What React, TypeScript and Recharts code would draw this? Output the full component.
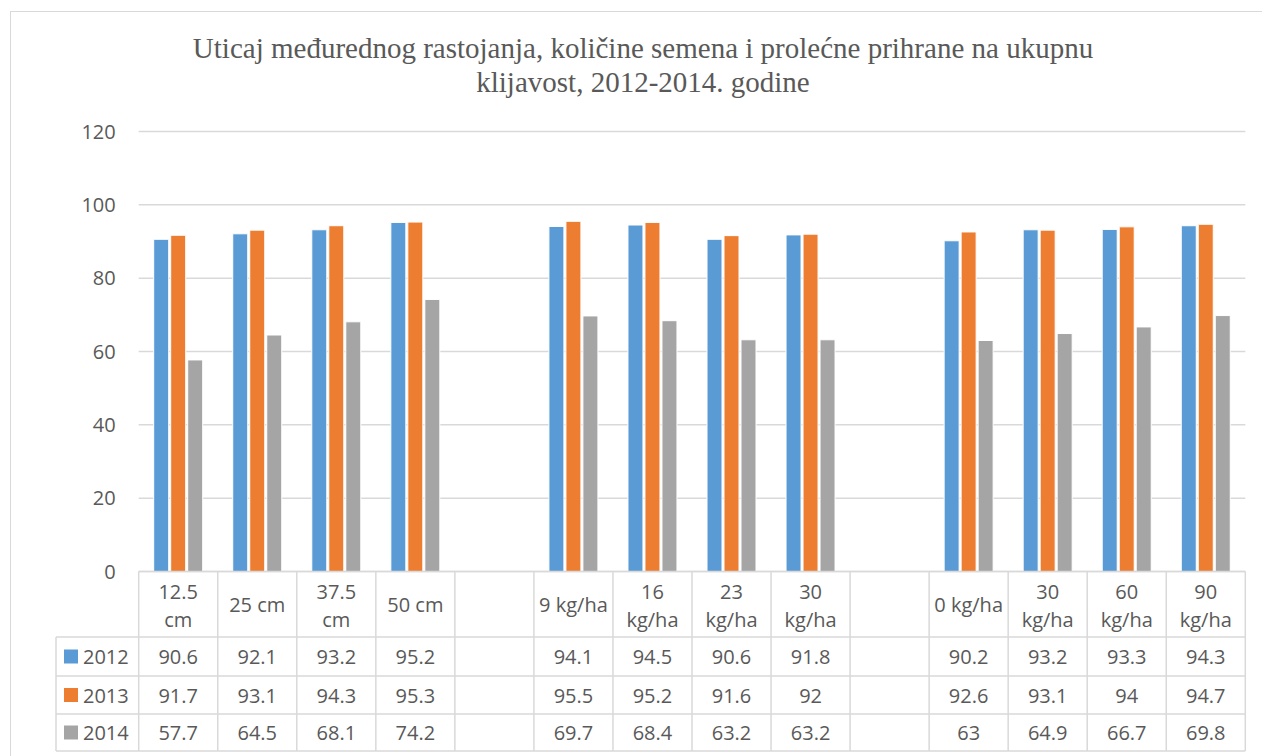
import React from 'react';
import { BarChart, Bar, XAxis, YAxis, CartesianGrid } from 'recharts';

const categories = ['12.5 cm', '25 cm', '37.5 cm', '50 cm', '', '9 kg/ha', '16 kg/ha', '23 kg/ha', '30 kg/ha', '', '0 kg/ha', '30 kg/ha', '60 kg/ha', '90 kg/ha'];
// header labels as they wrap in the table
const headerLabels = [['12.5', 'cm'], ['25 cm'], ['37.5', 'cm'], ['50 cm'], [], ['9 kg/ha'], ['16', 'kg/ha'], ['23', 'kg/ha'], ['30', 'kg/ha'], [], ['0 kg/ha'], ['30', 'kg/ha'], ['60', 'kg/ha'], ['90', 'kg/ha']];
const y2012 = [90.6, 92.1, 93.2, 95.2, null, 94.1, 94.5, 90.6, 91.8, null, 90.2, 93.2, 93.3, 94.3];
const y2013 = [91.7, 93.1, 94.3, 95.3, null, 95.5, 95.2, 91.6, 92, null, 92.6, 93.1, 94, 94.7];
const y2014 = [57.7, 64.5, 68.1, 74.2, null, 69.7, 68.4, 63.2, 63.2, null, 63, 64.9, 66.7, 69.8];
const yTicks = [0, 20, 40, 60, 80, 100, 120];

const series = [
  { key: '2012', values: y2012, color: '#5B9BD5' },
  { key: '2013', values: y2013, color: '#ED7D31' },
  { key: '2014', values: y2014, color: '#A5A5A5' },
];

const data = categories.map((name, i) => ({
  name,
  '2012': y2012[i],
  '2013': y2013[i],
  '2014': y2014[i],
}));

const W = 1262;
const H = 756;
const plotLeft = 138.7;
const plotRight = 1245.3;
const plotTop = 131.5;
const plotBottom = 571.5;
const colW = (plotRight - plotLeft) / categories.length;
const font = '"Open Sans", Lato, sans-serif';
const textColor = '#595959';
const lineColor = '#D9D9D9';

const headerBottom = 637;
const rowLines = [637, 676, 714, 751];
const tableLeft = 56;

function DataTable() {
  return (
    <svg width={W} height={H} style={{ position: 'absolute', left: 0, top: 0, pointerEvents: 'none' }}>
      <g stroke={lineColor} strokeWidth={1.5}>
        <line x1={plotLeft} x2={plotRight} y1={plotBottom} y2={plotBottom} />
        {rowLines.map((y) => (
          <line key={y} x1={tableLeft} x2={plotRight} y1={y} y2={y} />
        ))}
        <line x1={tableLeft} x2={tableLeft} y1={headerBottom} y2={751} />
        {categories.concat(['']).map((_, i) => (
          <line key={i} x1={plotLeft + i * colW} x2={plotLeft + i * colW} y1={plotBottom} y2={751} />
        ))}
      </g>
      <g fontFamily={font} fontSize={20} fill={textColor} textAnchor="middle" dominantBaseline="central">
        {headerLabels.map((lines, i) => {
          const cx = plotLeft + (i + 0.5) * colW;
          if (lines.length === 1) return <text key={i} x={cx} y={604}>{lines[0]}</text>;
          return lines.map((l, j) => (
            <text key={i + '-' + j} x={cx} y={591 + j * 28}>{l}</text>
          ));
        })}
        {series.map((s, r) => {
          const cy = (rowLines[r] + rowLines[r + 1]) / 2;
          return (
            <g key={s.key}>
              <rect x={64} y={cy - 7} width={14} height={14} fill={s.color} />
              <text x={83} y={cy} textAnchor="start">{s.key}</text>
              {s.values.map((v, i) =>
                v == null ? null : (
                  <text key={i} x={plotLeft + (i + 0.5) * colW} y={cy}>{v}</text>
                )
              )}
            </g>
          );
        })}
      </g>
    </svg>
  );
}

export default function App() {
  return (
    <div style={{ position: 'absolute', left: 0, top: 0, width: W, height: H, background: '#fff', overflow: 'hidden' }}>
      <div style={{ position: 'absolute', left: 10, top: 11, width: 1400, height: 900, border: `1px solid ${lineColor}` }} />
      <div
        style={{
          position: 'absolute',
          left: 12,
          top: 31,
          width: W,
          textAlign: 'center',
          fontFamily: '"Liberation Serif", "Times New Roman", serif',
          fontSize: 29,
          lineHeight: '34px',
          color: textColor,
        }}
      >
        Uticaj međurednog rastojanja, količine semena i prolećne prihrane na ukupnu
        <br />
        klijavost, 2012-2014. godine
      </div>
      <div style={{ position: 'absolute', left: 0, top: 0 }}>
        <BarChart
          width={W}
          height={H}
          data={data}
          margin={{ top: plotTop, right: W - plotRight, bottom: H - plotBottom, left: plotLeft - 60 }}
          barSize={15}
          barGap={2}
        >
          <CartesianGrid vertical={false} stroke={lineColor} strokeWidth={1.5} />
          <XAxis dataKey="name" hide />
          <YAxis
            width={60}
            domain={[0, 120]}
            ticks={yTicks}
            axisLine={false}
            tickLine={false}
            tickSize={0}
            tickMargin={23}
            tick={{ fill: textColor, fontSize: 20, fontFamily: font }}
          />
          {series.map((s) => (
            <Bar key={s.key} dataKey={s.key} fill={s.color} stroke="#fff" strokeWidth={1} isAnimationActive={false} />
          ))}
        </BarChart>
      </div>
      <DataTable />
    </div>
  );
}
